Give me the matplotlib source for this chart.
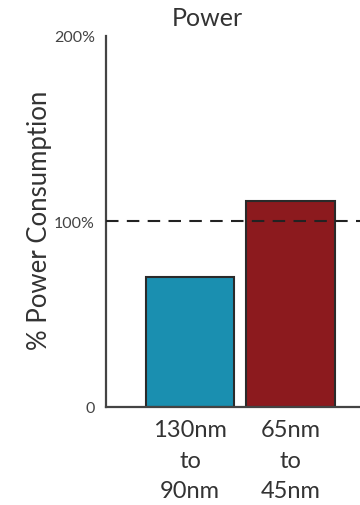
import matplotlib
matplotlib.use('Agg')
import matplotlib.pyplot as plt

# data
categories = ['130nm\nto\n90nm', '65nm\nto\n45nm']
power_pct = [70, 111]
bar_colors = ['#1a8fb0', '#8c1a1e']
reference_level = 100
ytick_values = [0, 100, 200]
ytick_labels = ['0', '100%', '200%']

plt.rcParams['font.family'] = ['Lato', 'DejaVu Sans']
text_color = '#333333'

fig = plt.figure(figsize=(3.6, 5.06), dpi=100)
ax = fig.add_axes([0.294, 0.194, 0.706, 0.733])

x = list(range(len(categories)))
ax.bar(x, power_pct, width=0.88, color=bar_colors,
       edgecolor='#2a2a2a', linewidth=1.5, zorder=2)
ax.axhline(reference_level, color='#222222', linestyle=(0, (6, 4)),
           linewidth=1.5, zorder=3)

ax.set_xlim(-0.836, 1.69)
ax.set_ylim(0, 200)

ax.set_yticks(ytick_values)
ax.set_yticklabels(ytick_labels, fontsize=11.5, color='#444444')
ax.set_xticks(x)
ax.set_xticklabels(categories, fontsize=17, color=text_color, linespacing=1.55)
ax.tick_params(axis='both', length=0)
ax.tick_params(axis='y', pad=8)
ax.tick_params(axis='x', pad=9)

for side in ['top', 'right']:
    ax.spines[side].set_visible(False)
for side in ['left', 'bottom']:
    ax.spines[side].set_color('#444444')
    ax.spines[side].set_linewidth(1.6)

fig.text(207 / 360, 1 - 19 / 506, 'Power', fontsize=18, color=text_color,
         ha='center', va='center')
fig.text(40 / 360, 1 - 220 / 506, '% Power Consumption', fontsize=18.5,
         color=text_color, rotation=90, ha='center', va='center')

fig.savefig('out.png', dpi=100)
